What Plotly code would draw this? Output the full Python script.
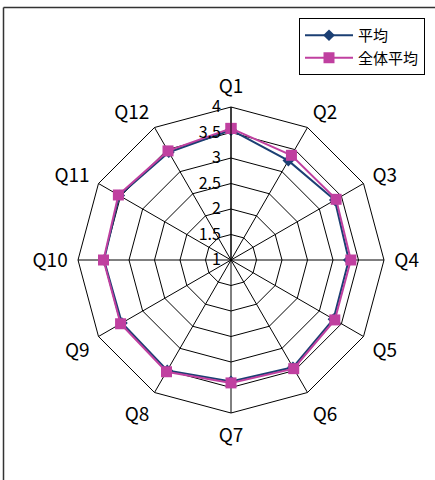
import plotly.graph_objects as go

categories = ["Q1", "Q2", "Q3", "Q4", "Q5", "Q6", "Q7", "Q8", "Q9", "Q10", "Q11", "Q12"]
avg = [3.55, 3.25, 3.35, 3.31, 3.32, 3.43, 3.38, 3.50, 3.47, 3.49, 3.53, 3.44]
overall_avg = [3.58, 3.37, 3.38, 3.35, 3.35, 3.46, 3.41, 3.53, 3.50, 3.50, 3.55, 3.47]
radial_ticks = [1, 1.5, 2, 2.5, 3, 3.5, 4]
series_names = ["平均", "全体平均"]

FONT = "Noto Sans CJK JP"
BLUE = "#1B3F73"
MAGENTA = "#C040A0"

W, H = 435, 480
cx, cy, R = 231, 260, 153

fig = go.Figure()
fig.add_trace(go.Scatterpolar(
    r=avg + [avg[0]], theta=categories + [categories[0]],
    mode="lines+markers", name=series_names[0],
    line=dict(color=BLUE, width=2),
    marker=dict(symbol="diamond", size=9, color=BLUE),
))
fig.add_trace(go.Scatterpolar(
    r=overall_avg + [overall_avg[0]], theta=categories + [categories[0]],
    mode="lines+markers", name=series_names[1],
    line=dict(color=MAGENTA, width=2),
    marker=dict(symbol="square", size=11, color=MAGENTA),
))

fig.update_layout(
    width=W, height=H,
    margin=dict(l=0, r=0, t=0, b=0),
    paper_bgcolor="white",
    plot_bgcolor="white",
    font=dict(family=FONT, color="black"),
    polar=dict(
        domain=dict(x=[(cx - R) / W, (cx + R) / W],
                    y=[(H - cy - R) / H, (H - cy + R) / H]),
        bgcolor="white",
        gridshape="linear",
        radialaxis=dict(
            range=[1, 4], tickvals=radial_ticks,
            ticktext=[str(t) for t in radial_ticks],
            angle=90, tickangle=90, side="counterclockwise",
            showline=True, linecolor="black", linewidth=1,
            gridcolor="black", gridwidth=1,
            ticks="outside", ticklen=4, tickcolor="rgba(0,0,0,0)",
            tickfont=dict(size=16, family=FONT),
        ),
        angularaxis=dict(
            rotation=90, direction="clockwise",
            showline=True, linecolor="black", linewidth=1,
            gridcolor="black", gridwidth=1,
            ticks="outside", ticklen=6, tickcolor="rgba(0,0,0,0)",
            tickfont=dict(size=19, family=FONT),
        ),
    ),
    showlegend=True,
    legend=dict(
        x=425 / W, xanchor="right", y=1 - 18 / H, yanchor="top",
        bordercolor="black", borderwidth=1, bgcolor="white",
        font=dict(size=15, family=FONT),
        tracegroupgap=0, itemsizing="trace", itemwidth=48,
    ),
    shapes=[
        dict(type="line", xref="paper", yref="paper",
             x0=3.5 / W, x1=1.2, y0=1 - 7.5 / H, y1=1 - 7.5 / H,
             line=dict(color="#333333", width=1.5)),
        dict(type="line", xref="paper", yref="paper",
             x0=3.5 / W, x1=3.5 / W, y0=-0.2, y1=1 - 7.5 / H,
             line=dict(color="#333333", width=1.5)),
    ],
)

fig.write_html("out.html")
